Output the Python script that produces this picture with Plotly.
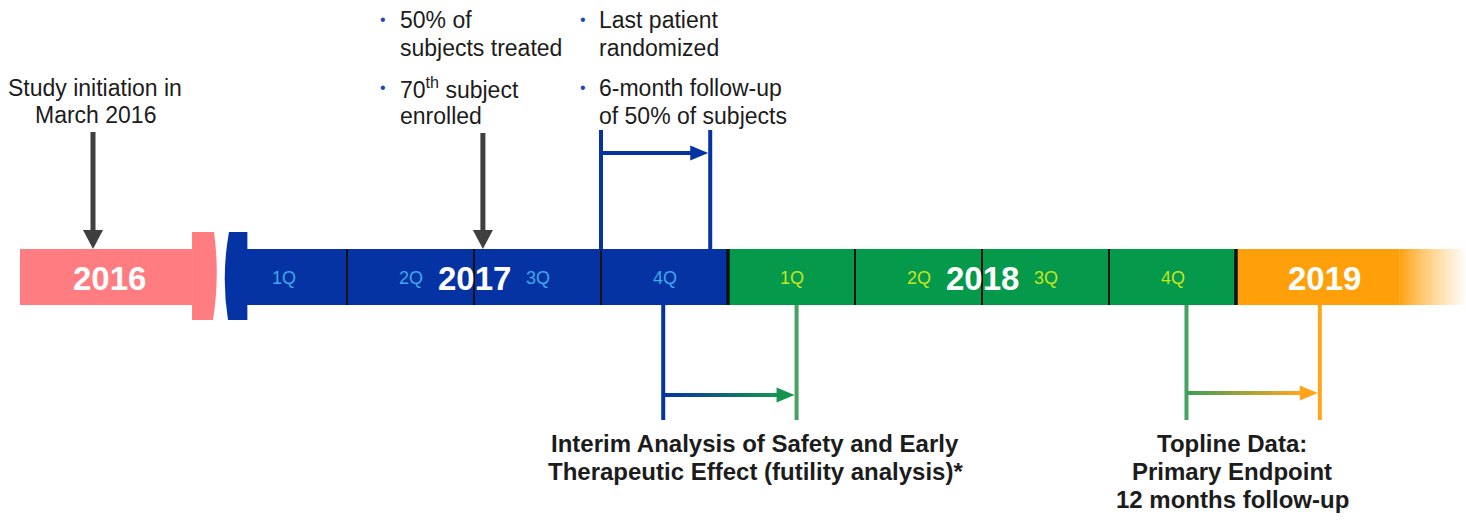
import plotly.graph_objects as go

# ---------------- data ----------------
# x unit = one quarter, 0 = start of 2017 (2016 is drawn compressed before an axis break)
years = ["2016", "2017", "2018", "2019"]
year_colors = ["#FF7C80", "#0533A4", "#04994B", "#FFA00A"]
year_start = [-1.575, 0.20, 4.0, 8.0]
year_end = [-0.22, 4.0, 8.0, 9.29]
year_label_x = [-0.87, 2.0, 6.0, 8.70]
fade_end = 9.82

quarters = ["1Q", "2Q", "3Q", "4Q"]
quarter_years = [2017, 2018]
quarter_year_offset = [0, 4]
quarter_label_colors = ["#3FA8E8", "#C3E61E"]

# milestones (quarter units)
study_init_q = -1.0
enrolled_70_q = 2.07
last_patient_q = 3.0
followup_6m_q = 3.86
interim_start_q = 3.49
interim_end_q = 4.54
topline_start_q = 7.61
topline_end_q = 8.66

study_text = ["Study initiation in", "March 2016"]
col1_bullets = [["50% of", "subjects treated"], ["70<sup>th</sup> subject", "enrolled"]]
col2_bullets = [["Last patient", "randomized"], ["6-month follow-up", "of 50% of subjects"]]
interim_text = ["Interim Analysis of Safety and Early", "Therapeutic Effect (futility analysis)*"]
topline_text = ["Topline Data:", "Primary Endpoint", "12 months follow-up"]

# ---------------- layout constants ----------------
QPX = 127.0
X_MIN, X_MAX = -220 / QPX, 1246 / QPX
BAR_TOP, BAR_BOT = 249, 305
TAB_TOP, TAB_BOT = 232, 320
FONT = "Liberation Sans, Arial, Helvetica, sans-serif"
BLUE = year_colors[1]
GREEN_V = "#47A262"
ORANGE_V = "#FFA51C"
DARK = "#3F3F3F"
TXT = "#1C1C1C"

shapes = []
annotations = []


def px(v):
    return v / QPX


def rect(x0, x1, y0, y1, color, opacity=1.0):
    shapes.append(dict(type="rect", xref="x", yref="y", x0=x0, x1=x1, y0=y0, y1=y1,
                       fillcolor=color, opacity=opacity, line=dict(width=0), layer="below"))


def vline(x, y0, y1, color, width):
    shapes.append(dict(type="line", xref="x", yref="y", x0=x, x1=x, y0=y0, y1=y1,
                       line=dict(color=color, width=width)))


def tri_path(pts, color):
    d = "M " + " L ".join(f"{a},{b}" for a, b in pts) + " Z"
    shapes.append(dict(type="path", xref="x", yref="y", path=d, fillcolor=color,
                       line=dict(width=0)))


def hex2rgb(h):
    h = h.lstrip("#")
    return tuple(int(h[i:i + 2], 16) for i in (0, 2, 4))


def mix(c0, c1, t):
    a, b = hex2rgb(c0), hex2rgb(c1)
    return "rgb(%d,%d,%d)" % tuple(round(a[i] + (b[i] - a[i]) * t) for i in range(3))


def grad_arrow(x0, x1, y, c0, c1, width=4):
    head = px(18)
    tip = x1 - px(2)
    xb = tip - head
    n = 30
    for i in range(n):
        a = x0 + (xb - x0) * i / n
        shapes.append(dict(type="line", xref="x", yref="y", x0=a, x1=xb + px(1), y0=y, y1=y,
                           line=dict(color=mix(c0, c1, i / (n - 1)), width=width)))
    tri_path([(xb, y - 7.5), (tip, y), (xb, y + 7.5)], c1)


def down_arrow(x, y_top, color):
    vline(x, y_top, BAR_TOP - 18, color, 5)
    tri_path([(x - px(10), BAR_TOP - 19), (x + px(10), BAR_TOP - 19), (x, BAR_TOP)], color)


def text(x, y, s, size=23, color=TXT, anchor="center", bold=False):
    if bold:
        s = "<b>" + s + "</b>"
    annotations.append(dict(x=x, y=y, xref="x", yref="y", text=s, showarrow=False,
                            xanchor=anchor, yanchor="middle",
                            font=dict(family=FONT, size=size, color=color)))


fig = go.Figure()

# ---------------- year bars ----------------
for i, yr in enumerate(years):
    rect(year_start[i], year_end[i], BAR_TOP, BAR_BOT, year_colors[i])
# 2019 fade to white: overlapping strips, each reaching the end (no seams)
nf = 60
for i in range(nf):
    a = year_end[3] + (fade_end - year_end[3]) * i / nf
    rect(a, fade_end, BAR_TOP, BAR_BOT, mix(year_colors[3], "#FFFFFF", ((i + 0.5) / nf) ** 0.8))

# axis-break tabs
p0 = year_end[0]
shapes.append(dict(type="path", xref="x", yref="y", layer="below", line=dict(width=0),
                   fillcolor=year_colors[0],
                   path=(f"M {p0},{TAB_TOP} L {px(-6)},{TAB_TOP} "
                         f"Q {px(0)},{(TAB_TOP + TAB_BOT) / 2} {px(-7)},{TAB_BOT} "
                         f"L {p0},{TAB_BOT} Z")))
b1 = year_start[1] + px(2)
shapes.append(dict(type="path", xref="x", yref="y", layer="below", line=dict(width=0),
                   fillcolor=BLUE,
                   path=(f"M {px(9)},{TAB_TOP} L {b1},{TAB_TOP} L {b1},{TAB_BOT} "
                         f"L {px(8)},{TAB_BOT} "
                         f"Q {px(1)},{(TAB_TOP + TAB_BOT) / 2} {px(9)},{TAB_TOP} Z")))

# quarter dividers & labels
for k, off in enumerate(quarter_year_offset):
    for j, ql in enumerate(quarters):
        text(off + j + 0.5, 278, ql, size=18, color=quarter_label_colors[k])
        if j > 0:
            vline(off + j, BAR_TOP, BAR_BOT, "#111111", 2)
    vline(off + 4, BAR_TOP, BAR_BOT, "#111111", 3.5)

# year labels
for i, yr in enumerate(years):
    text(year_label_x[i], 278, yr, size=33, color="white", bold=True)

# ---------------- milestones ----------------
down_arrow(study_init_q, 132, DARK)
down_arrow(enrolled_70_q, 133, DARK)

# upper blue bracket
vline(last_patient_q, 130, BAR_TOP + 1, BLUE, 4)
vline(followup_6m_q, 130, BAR_TOP + 1, BLUE, 4)
grad_arrow(last_patient_q, followup_6m_q, 153, BLUE, BLUE)

# interim bracket
vline(interim_start_q, BAR_BOT, 420, BLUE, 4)
vline(interim_end_q, BAR_BOT, 420, GREEN_V, 4)
grad_arrow(interim_start_q, interim_end_q, 395, BLUE, "#14944E")

# topline bracket
vline(topline_start_q, BAR_BOT, 420, GREEN_V, 4)
vline(topline_end_q, BAR_BOT, 420, ORANGE_V, 4)
grad_arrow(topline_start_q, topline_end_q, 393, "#3E9F55", ORANGE_V)

# ---------------- texts ----------------
for k, s in enumerate(study_text):
    text(study_init_q + px(2), 88 + 27 * k, s, size=23)

for col, (bx, tx) in zip([col1_bullets, col2_bullets], [(px(163), px(178)), (px(363), px(377))]):
    for g, lines in enumerate(col):
        ybase = 20 + 68 * g
        text(bx, ybase - 1, "•", size=16, color="#1E45B5")
        for k, s in enumerate(lines):
            text(tx, ybase + 28 * k, s, size=23, anchor="left")

for k, s in enumerate(interim_text):
    text(px(535), 443 + 28 * k, s, size=24, bold=True)
for k, s in enumerate(topline_text):
    text(px(1012), 443 + 28 * k, s, size=24, bold=True)

fig.update_layout(
    width=1466, height=521,
    margin=dict(l=0, r=0, t=0, b=0),
    paper_bgcolor="white", plot_bgcolor="white",
    xaxis=dict(range=[X_MIN, X_MAX], visible=False, fixedrange=True),
    yaxis=dict(range=[521, 0], visible=False, fixedrange=True),
    shapes=shapes, annotations=annotations, showlegend=False,
)
fig.write_html("out.html", config={"displayModeBar": False},
               post_script="document.body.style.margin='0';document.body.style.overflow='hidden';")
